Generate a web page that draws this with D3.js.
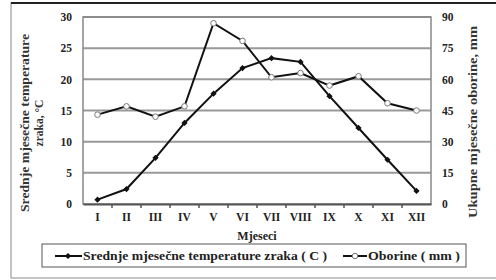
<!DOCTYPE html>
<html><head><meta charset="utf-8">
<script src="https://cdn.jsdelivr.net/npm/d3@7"></script>
<style>body{margin:0;background:#fff;}svg text{font-family:'Liberation Serif','Times New Roman',serif !important;font-weight:bold;}</style>
</head><body><svg id="c" width="496" height="280"></svg>
<script>
const months = ["I","II","III","IV","V","VI","VII","VIII","IX","X","XI","XII"];
const temperature = [0.7, 2.4, 7.4, 13.0, 17.7, 21.8, 23.4, 22.8, 17.3, 12.2, 7.1, 2.1];
const precipitation = [43, 47, 42, 47, 87, 78.5, 61, 63, 57, 61.5, 48.5, 45];
const leftTicks = [0,5,10,15,20,25,30];
const rightTicks = [0,15,30,45,60,75,90];

const FF = "Liberation Serif";
const svg = d3.select("#c");
const L = 83, R = 431, T = 17, B = 204;
// frame
svg.append("rect").attr("x",11).attr("y",3).attr("width",490).attr("height",275)
  .attr("fill","none").attr("stroke","#888").attr("stroke-width",1);
svg.append("line").attr("x1",11).attr("x2",496).attr("y1",3).attr("y2",3).attr("stroke","#222").attr("stroke-width",2);

const x = d3.scaleBand().domain(months).range([L,R]);
const yL = d3.scaleLinear().domain([0,30]).range([B,T]);
const yR = d3.scaleLinear().domain([0,90]).range([B,T]);

// gridlines
svg.append("g").selectAll("line").data(leftTicks.slice(1)).join("line")
  .attr("x1",L).attr("x2",R).attr("y1",d=>yL(d)).attr("y2",d=>yL(d))
  .attr("stroke","#999").attr("stroke-width",2);
// plot border
svg.append("rect").attr("x",L).attr("y",T).attr("width",R-L).attr("height",B-T)
  .attr("fill","none").attr("stroke","#888").attr("stroke-width",1.5);

function styleAxis(g){
  g.attr("font-family",FF).attr("font-weight","bold");
  g.selectAll("text").attr("font-size",11.5).attr("fill","#222");
}
// axes
const gx = svg.append("g").attr("transform",`translate(0,${B})`)
  .call(d3.axisBottom(x).tickSize(0).tickPadding(9));
gx.select(".domain").attr("stroke","#555").attr("stroke-width",2);
styleAxis(gx);
svg.append("g").selectAll("line").data(months.slice(1)).join("line")
  .attr("x1",d=>x(d)).attr("x2",d=>x(d)).attr("y1",B).attr("y2",B+4).attr("stroke","#555").attr("stroke-width",1.5);

const gl = svg.append("g").attr("transform",`translate(${L},0)`)
  .call(d3.axisLeft(yL).tickValues(leftTicks).tickSize(0).tickPadding(11));
gl.select(".domain").remove();
styleAxis(gl);
const gr = svg.append("g").attr("transform",`translate(${R},0)`)
  .call(d3.axisRight(yR).tickValues(rightTicks).tickSize(0).tickPadding(11));
gr.select(".domain").remove();
styleAxis(gr);

// titles
const lt = svg.append("text").attr("transform","translate(29,123) rotate(-90)").attr("font-size",11.5).attr("fill","#333").attr("text-anchor","middle");
lt.append("tspan").attr("x",0).attr("dy",0).attr("textLength",178).attr("lengthAdjust","spacingAndGlyphs").text("Srednje mjesečne temperature");
lt.append("tspan").attr("x",0).attr("dy",14).text("zraka, °C");
svg.append("text").attr("transform","translate(477,122) rotate(-90)").attr("font-size",11.5).attr("fill","#333").attr("text-anchor","middle")
  .attr("textLength",192).attr("lengthAdjust","spacingAndGlyphs")
  .text("Ukupne mjesečne oborine, mm");
svg.append("text").attr("x",(L+R)/2).attr("y",240).attr("font-size",12).attr("fill","#222").attr("text-anchor","middle").text("Mjeseci");

const cx = d => x(d)+x.bandwidth()/2;
// precipitation line
svg.append("path").datum(precipitation).attr("fill","none").attr("stroke","#111").attr("stroke-width",2)
  .attr("d", d3.line().x((d,i)=>cx(months[i])).y(d=>yR(d)));
svg.append("g").selectAll("circle").data(precipitation).join("circle")
  .attr("cx",(d,i)=>cx(months[i])).attr("cy",d=>yR(d)).attr("r",2.8)
  .attr("fill","#fff").attr("stroke","#777").attr("stroke-width",1);
// temperature line
svg.append("path").datum(temperature).attr("fill","none").attr("stroke","#111").attr("stroke-width",2)
  .attr("d", d3.line().x((d,i)=>cx(months[i])).y(d=>yL(d)));
svg.append("g").selectAll("path.m").data(temperature).join("path")
  .attr("transform",(d,i)=>`translate(${cx(months[i])},${yL(d)}) rotate(45)`)
  .attr("d","M-2.2,-2.2H2.2V2.2H-2.2Z").attr("fill","#111");

// legend
svg.append("rect").attr("x",42).attr("y",244).attr("width",424).attr("height",23)
  .attr("fill","#fff").attr("stroke","#555").attr("stroke-width",1);
svg.append("line").attr("x1",55).attr("x2",82).attr("y1",256).attr("y2",256).attr("stroke","#111").attr("stroke-width",2);
svg.append("path").attr("transform","translate(68,256) rotate(45)").attr("d","M-2.2,-2.2H2.2V2.2H-2.2Z").attr("fill","#111");
svg.append("text").attr("x",83).attr("y",260).attr("font-size",11.5).attr("fill","#222")
  .attr("textLength",244).attr("lengthAdjust","spacingAndGlyphs").text("Srednje mjesečne temperature zraka ( C )");
svg.append("line").attr("x1",343).attr("x2",367).attr("y1",256).attr("y2",256).attr("stroke","#111").attr("stroke-width",2);
svg.append("circle").attr("cx",355).attr("cy",256).attr("r",2.8).attr("fill","#fff").attr("stroke","#777");
svg.append("text").attr("x",368).attr("y",260).attr("font-size",11.5).attr("fill","#222")
  .attr("textLength",92).attr("lengthAdjust","spacingAndGlyphs").text("Oborine ( mm )");
</script></body></html>
